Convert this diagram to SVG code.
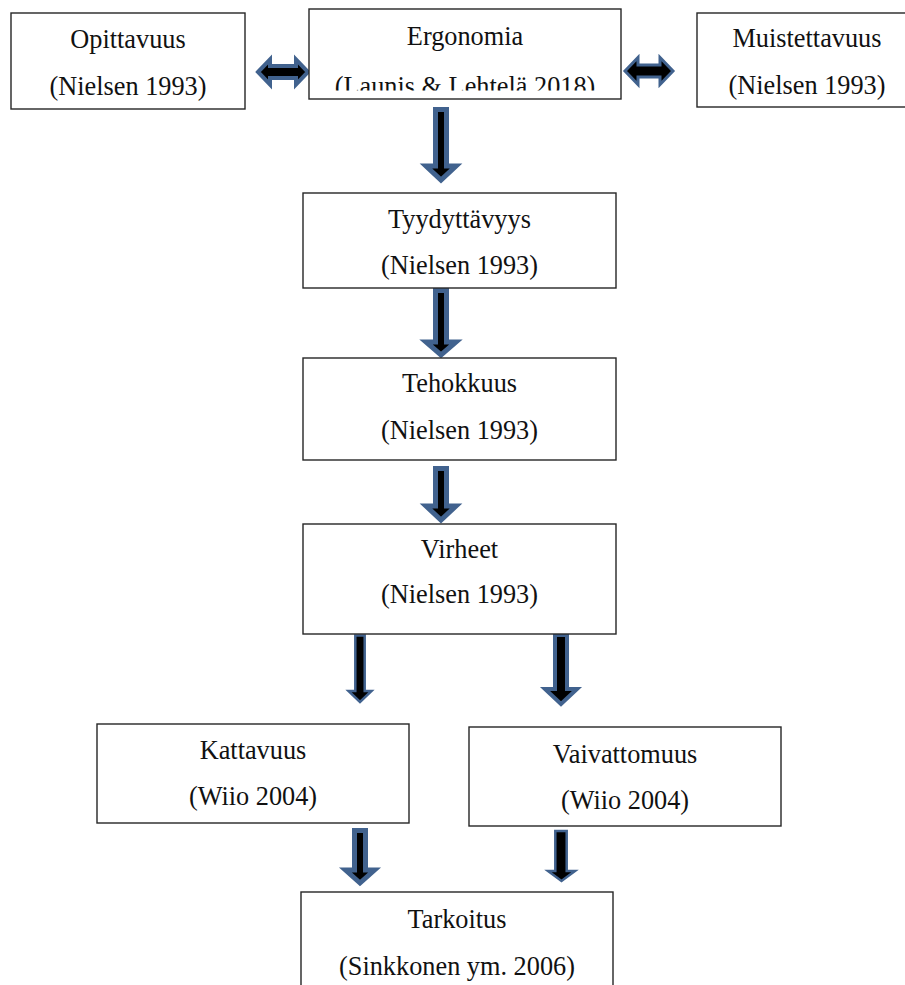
<svg xmlns="http://www.w3.org/2000/svg" width="905" height="985" viewBox="0 0 905 985">
<style>
.box{fill:#fff;stroke:#262626;stroke-width:1.4}
.t{font-family:"Liberation Serif","Times New Roman",serif;font-size:26.3px;fill:#111;text-anchor:middle}
.arr{fill:#000;stroke:#41628E;stroke-linejoin:miter;stroke-miterlimit:10}
</style>
<defs>
<clipPath id="ergClip"><rect x="309" y="9" width="312" height="81.5"/></clipPath>
</defs>
<rect width="905" height="985" fill="#fff"/>
<g id="connectors">
<polygon class="arr" style="stroke-width:4" points="258,72 270,59.5 270,66 296,66 296,59.5 308,72 296,84.5 296,78 270,78 270,84.5"/>
<polygon class="arr" style="stroke-width:3" points="625,71 638,57.5 638,65 660,65 660,57.5 673,71 660,84.5 660,77 638,77 638,84.5"/>
<polygon class="arr" style="stroke-width:5" points="435.5,109.5 446.5,109.5 446.5,166 456,166 441,180 426,166 435.5,166"/>
<polygon class="arr" style="stroke-width:5" points="435.5,290.5 446.5,290.5 446.5,342 456,342 441,355 426,342 435.5,342"/>
<polygon class="arr" style="stroke-width:5" points="435.5,468.5 446.5,468.5 446.5,506 456,506 441,520 426,506 435.5,506"/>
<polygon class="arr" style="stroke-width:2.5" points="355.3,635.5 364.7,635.5 364.7,691 371.5,691 360,702 348.5,691 355.3,691"/>
<polygon class="arr" style="stroke-width:4" points="555,635 567,635 567,689 577,689 561,704 545,689 555,689"/>
<polygon class="arr" style="stroke-width:5" points="354.5,830.5 365.5,830.5 365.5,870 374.5,870 360,883 345.5,870 354.5,870"/>
<polygon class="arr" style="stroke-width:2.5" points="555.3,831 566.7,831 566.7,871 575,871 561.5,881 548,871 555.3,871"/>
</g>
<g id="opittavuus">
<rect class="box" x="11" y="13" width="234" height="96"/>
<text class="t" x="128" y="48">Opittavuus</text>
<text class="t" x="128" y="95">(Nielsen 1993)</text>
</g>
<g id="ergonomia">
<rect class="box" x="309" y="9" width="312" height="90"/>
<text class="t" x="465" y="45">Ergonomia</text>
<text class="t" x="465" y="95" clip-path="url(#ergClip)">(Launis &amp; Lehtelä 2018)</text>
</g>
<g id="muistettavuus">
<rect class="box" x="697" y="13" width="222" height="94"/>
<text class="t" x="807" y="47">Muistettavuus</text>
<text class="t" x="807" y="94">(Nielsen 1993)</text>
</g>
<g id="tyydyttavyys">
<rect class="box" x="303" y="193" width="313" height="95"/>
<text class="t" x="459.5" y="228">Tyydyttävyys</text>
<text class="t" x="459.5" y="274">(Nielsen 1993)</text>
</g>
<g id="tehokkuus">
<rect class="box" x="303" y="358" width="313" height="102"/>
<text class="t" x="459.5" y="392">Tehokkuus</text>
<text class="t" x="459.5" y="439">(Nielsen 1993)</text>
</g>
<g id="virheet">
<rect class="box" x="303" y="524" width="313" height="110"/>
<text class="t" x="459.5" y="558">Virheet</text>
<text class="t" x="459.5" y="603">(Nielsen 1993)</text>
</g>
<g id="kattavuus">
<rect class="box" x="97" y="724" width="312" height="99"/>
<text class="t" x="253" y="759">Kattavuus</text>
<text class="t" x="253" y="805">(Wiio 2004)</text>
</g>
<g id="vaivattomuus">
<rect class="box" x="469" y="727" width="312" height="99"/>
<text class="t" x="625" y="763">Vaivattomuus</text>
<text class="t" x="625" y="809">(Wiio 2004)</text>
</g>
<g id="tarkoitus">
<rect class="box" x="301" y="892" width="312" height="110"/>
<text class="t" x="457" y="928">Tarkoitus</text>
<text class="t" x="457" y="975">(Sinkkonen ym. 2006)</text>
</g>
</svg>
